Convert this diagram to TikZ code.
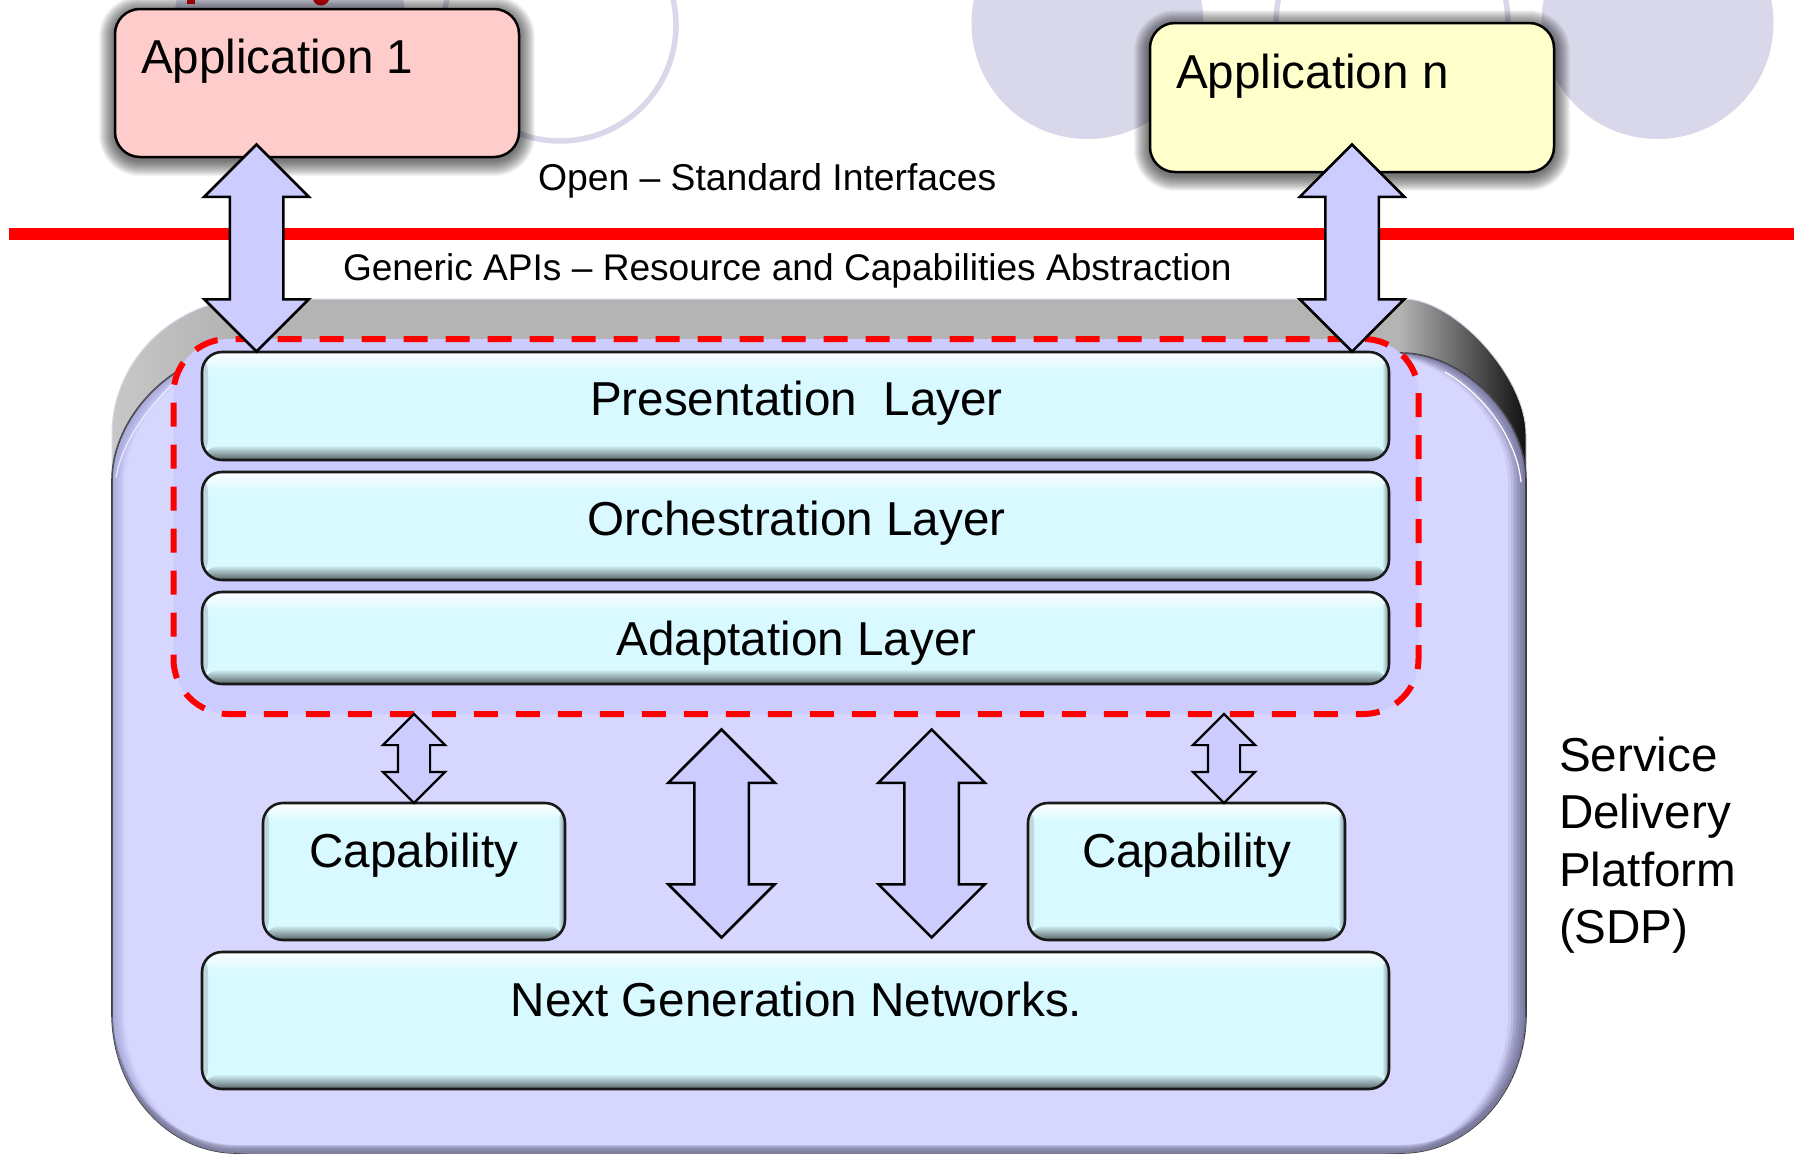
\documentclass[tikz,border=0pt]{standalone}
\usepackage{fontspec}
\setmainfont{Liberation Sans}
\usetikzlibrary{shapes.arrows,fadings,calc}
\definecolor{barc}{HTML}{D7F9FF}
\definecolor{facec}{HTML}{D6D6FF}
\definecolor{innerc}{HTML}{CCCCFF}
\definecolor{ringc}{HTML}{D8D8EA}
\definecolor{exl}{HTML}{C8C8C8}
\definecolor{exm}{HTML}{B4B4B4}
\definecolor{exr}{HTML}{101010}
\definecolor{edgeL}{HTML}{ACACDC}
\definecolor{edgeR}{HTML}{7C7CA4}
\definecolor{edgeB}{HTML}{7C7C9C}
\definecolor{appred}{HTML}{FFCCCC}
\definecolor{appyel}{HTML}{FFFFCC}
\pgfdeclarehorizontalshading{extrude}{100bp}{color(0bp)=(exl);color(25bp)=(exl);color(29bp)=(exm);color(70.5bp)=(exm);color(75bp)=(exr);color(100bp)=(exr)}
\newcommand\bodypath[4]{(#1+125,#2) -- (#3-125,#2) .. controls (#3-62,#2) and (#3,#2+64) .. (#3,#2+127) -- (#3,#4-140) .. controls (#3,#4-62) and (#3-56,#4) .. (#3-125,#4) -- (#1+125,#4) .. controls (#1+56,#4) and (#1,#4-62) .. (#1,#4-140) -- (#1,#2+127) .. controls (#1,#2+64) and (#1+62,#2) .. (#1+125,#2) -- cycle}
\newcommand\halo[4]{\foreach \d in {16,15,...,1}{\pgfmathsetmacro\rr{25+\d}\fill[black,opacity=.045,rounded corners=\rr pt] (#1-\d,#2-\d+3) rectangle (#3+\d,#4+\d+3);}}
\tikzset{
  lbl/.style={font=\fontsize{47.6}{57.5}\selectfont,inner sep=0pt,outer sep=0pt,text=black},
  small/.style={font=\fontsize{37.3}{44}\selectfont,inner sep=0pt,outer sep=0pt,text=black},
  appbox/.style={draw=black,line width=2.5pt,rounded corners=25pt,inner sep=0pt,outer sep=0pt},
  ring/.style={draw=ringc,line width=5.5pt,circle,minimum size=232pt,inner sep=0pt},
  disc/.style={fill=ringc,circle,minimum size=232pt,inner sep=0pt},
  bevelbox/.style={draw=black!90,line width=2.6pt,rounded corners=20pt,fill=barc,inner sep=0pt,outer sep=0pt,
    path picture={
      \shade[left color=barc!72!gray,right color=barc] (path picture bounding box.north west) rectangle ([xshift=6pt]path picture bounding box.south west);
      \shade[right color=black!42!barc,left color=barc] (path picture bounding box.north east) rectangle ([xshift=-7pt]path picture bounding box.south east);
      \shade[top color=white,middle color=white,bottom color=barc] (path picture bounding box.north west) rectangle ([yshift=-19pt]path picture bounding box.north east);
      \shade[bottom color=black!60!barc,top color=barc] (path picture bounding box.south west) rectangle ([yshift=15pt]path picture bounding box.south east);
    }},
  barrow/.style={double arrow,shape border rotate=90,draw=black,line width=2.5pt,fill=innerc,outer sep=0pt,double arrow tip angle=90,miter limit=10},
}
\begin{document}
\begin{tikzpicture}[x=1pt,y=-1pt]
\useasboundingbox (0,0) rectangle (1800,1154);
\fill[white] (0,0) rectangle (1800,1154);
% background circles
\node[disc] (discA) at (290,25) {};
\node[ring] (ringA) at (560,25) {};
\node[disc] (discB) at (1087.5,23) {};
\node[ring] (ringB) at (1392,23) {};
\node[disc] (discC) at (1657.5,23) {};
\fill[red!80!black] (187,-1) rectangle (195,4);
\fill[red!80!black] (321,-3) circle (8.5);
% rule
\coordinate (ruleL) at (9,234);
\coordinate (ruleR) at (1794,234);
\draw[red,line width=12pt] (ruleL) -- (ruleR);
% platform extrusion
\path[shading=extrude,draw=ringc,line width=1pt] (112,520) -- (112,434) .. controls (112,360) and (175,299) .. (250,299) -- (1404,299) .. controls (1455,299) and (1526,377) .. (1526,434) -- (1526,520) -- cycle;
% platform front face: soft bevel from nested outlines
\path[left color=edgeL,right color=edgeR,draw=black!75,line width=1.6pt] \bodypath{112}{353}{1526}{1153};
\foreach \i/\p in {1/10,2/24,3/42,4/65,5/85,6/100}{
  \pgfmathsetmacro\lx{112+\i*2.2}
  \pgfmathsetmacro\rx{1526-\i*3}
  \pgfmathsetmacro\ty{353+\i*0.5}
  \path[left color=facec!\p!edgeL,right color=facec!\p!edgeR] \bodypath{\lx}{\ty}{\rx}{1153};
}
\begin{scope}
\clip \bodypath{112}{353}{1526}{1153};
\foreach \i in {8,7,...,1}{
  \pgfmathsetmacro\by{1153-\i}
  \fill[edgeB,opacity=.28,even odd rule] \bodypath{112}{353}{1526}{1153} \bodypath{112}{353}{1526}{\by};
}
\end{scope}
\draw[white,line width=1.2pt] (1445,372) .. controls (1485,395) and (1517,440) .. (1521,482);
\draw[white!50!facec,line width=1.2pt] (180,377) .. controls (150,405) and (122,440) .. (116,478);
% abstraction region
\node[draw=red,line width=6pt,dash pattern=on 24pt off 18pt,dash phase=30pt,fill=innerc,rounded corners=55pt,minimum width=1245pt,minimum height=375pt,inner sep=0pt,outer sep=0pt] (region) at (796,526.5) {};
% layers
\node[bevelbox,minimum width=1187pt,minimum height=108pt] (presentation) at (795.5,406) {};
\node[bevelbox,minimum width=1187pt,minimum height=108pt] (orchestration) at (795.5,526) {};
\node[bevelbox,minimum width=1187pt,minimum height=92pt] (adaptation) at (795.5,638) {};
\node[bevelbox,minimum width=302pt,minimum height=137pt] (capL) at (414,871.5) {};
\node[bevelbox,minimum width=317pt,minimum height=137pt] (capR) at (1186.5,871.5) {};
\node[bevelbox,minimum width=1187pt,minimum height=137pt] (ngn) at (795.5,1020.5) {};
\node[lbl,anchor=base] (tPres) at (796.5,415) {Presentation\ \ Layer};
\node[lbl,anchor=base] (tOrch) at (796.5,535) {Orchestration Layer};
\node[lbl,anchor=base] (tAdap) at (796.5,655) {Adaptation Layer};
\node[lbl,anchor=base] (tCapL) at (414,867) {Capability};
\node[lbl,anchor=base] (tCapR) at (1186.5,867) {Capability};
\node[lbl,anchor=base] (tNgn) at (796.5,1016) {Next Generation Networks.};
% applications
\halo{115}{9}{519}{157}
\halo{1150}{23}{1554}{172}
\node[appbox,fill=appred,minimum width=404pt,minimum height=148pt] (app1) at (317,83) {};
\node[appbox,fill=appyel,minimum width=404pt,minimum height=149pt] (appn) at (1352,97.5) {};
\node[lbl,anchor=base west] (tApp1) at (141,73) {Application 1};
\node[lbl,anchor=base west] (tAppn) at (1176,88) {Application n};
% labels
\node[small,anchor=base west] (open) at (538,190) {Open – Standard Interfaces};
\node[small,anchor=base west,font=\fontsize{37.1}{44}\selectfont] (generic) at (343,280.5) {Generic APIs – Resource and Capabilities Abstraction};
\node[lbl,anchor=north west,align=left] (sdp) at (1559,736.5) {Service\\Delivery\\Platform\\(SDP)};
% block arrows
\node[barrow,minimum height=207pt,minimum width=102pt,inner sep=25.5pt,double arrow head extend=25.5pt] (a1) at (256.5,248) {};
\node[barrow,minimum height=207pt,minimum width=102pt,inner sep=25.5pt,double arrow head extend=25.5pt] (an) at (1352,248) {};
\node[barrow,minimum height=208pt,minimum width=104pt,inner sep=26pt,double arrow head extend=26pt] (m1) at (721.5,833.5) {};
\node[barrow,minimum height=208pt,minimum width=104pt,inner sep=26pt,double arrow head extend=26pt] (m2) at (931.6,833.5) {};
\node[barrow,line width=2.2pt,minimum height=89pt,minimum width=60pt,inner sep=15pt,double arrow head extend=15pt] (s1) at (414,758.5) {};
\node[barrow,line width=2.2pt,minimum height=89pt,minimum width=60pt,inner sep=15pt,double arrow head extend=15pt] (s2) at (1224,758.5) {};
\end{tikzpicture}
\end{document}
